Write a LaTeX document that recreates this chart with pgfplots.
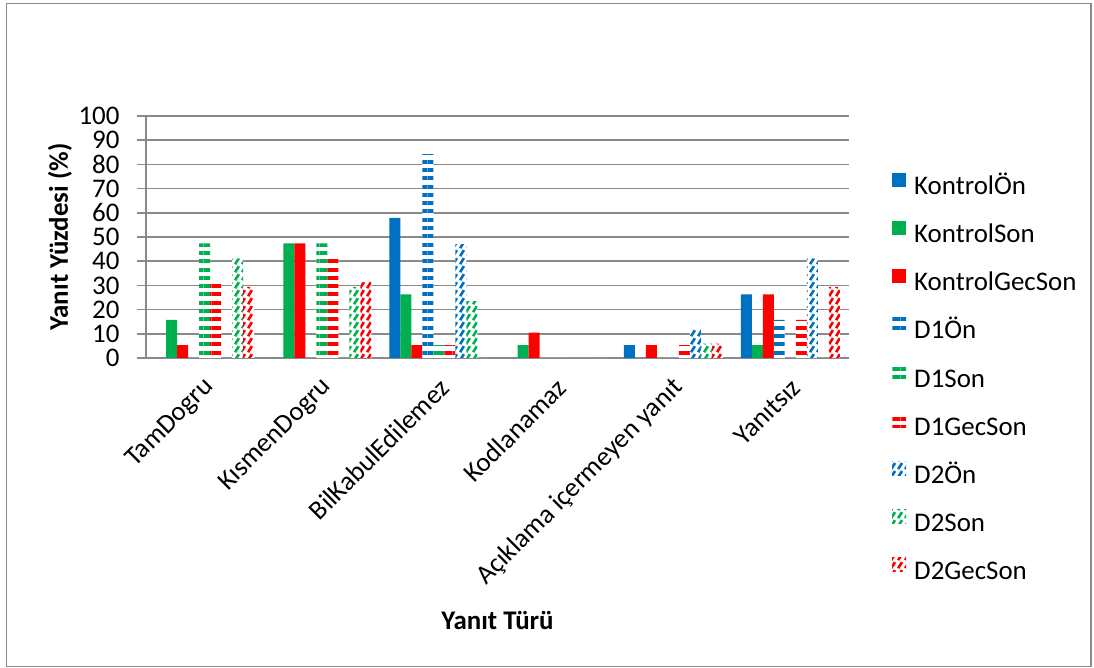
\documentclass[border=0pt]{standalone}
\usepackage{fontspec}
\setmainfont{Carlito}
\usepackage{pgfplots}
\pgfplotsset{compat=1.18}
\usetikzlibrary{patterns.meta}
\definecolor{cb}{HTML}{0070C0}
\definecolor{cg}{HTML}{00B050}
\definecolor{cr}{HTML}{FF0000}
\definecolor{gridc}{HTML}{8A8A8A}
\newcommand\fs{\fontsize{27}{32}\selectfont}
\newcommand\fl{\fontsize{27}{32}\selectfont}
\pgfdeclarepattern{
  name=ddash,
  type=uncolored,
  bottom left={\pgfpoint{0pt}{0pt}},
  top right={\pgfpoint{6.5bp}{8.3bp}},
  tile size={\pgfpoint{6.5bp}{8.3bp}},
  code={
    \pgfsetlinewidth{2.8bp}
    \pgfpathmoveto{\pgfpoint{1.2bp}{0.9bp}}
    \pgfpathlineto{\pgfpoint{5.3bp}{7.4bp}}
    \pgfusepath{stroke}
  }
}
\pgfplotsset{
  limg/.style={legend image code/.code={\path[##1] (0bp,1.5bp) rectangle (14bp,15.5bp);}},
  solidbar/.style={fill=#1, draw=none, limg},
  hbar/.style={fill=white, draw=none, postaction={pattern={Lines[angle=0,distance=8.3bp,line width=4bp]}, pattern color=#1}, limg},
  dbar/.style={fill=white, draw=none, postaction={pattern=ddash, pattern color=#1}, limg},
}
\begin{document}
\begin{tikzpicture}
\useasboundingbox (0,0) rectangle (1094bp,668bp);
\fill[white] (0,0) rectangle (1094bp,668bp);
\draw[gridc, line width=1.5bp] (6.5bp,1.5bp) rectangle (1091bp,664.5bp);
\begin{axis}[
  at={(146bp,310bp)}, anchor=south west,
  scale only axis, width=703bp, height=242bp,
  xmin=-0.5, xmax=5.5, ymin=0, ymax=100,
  ybar=0pt, bar width=11bp,
  axis x line*=bottom, axis y line*=left,
  axis line style={gridc, line width=1.5bp, -},
  ymajorgrids, grid style={gridc, line width=1.5bp},
  ytick={0,10,...,100},
  xtick={0,1,2,3,4,5},
  xticklabels={TamDogru, KısmenDogru, BilKabulEdilemez, Kodlanamaz, Açıklama içermeyen yanıt, Yanıtsız},
  xtick style={draw=none},
  ytick style={gridc, line width=1.5bp},
  tick align=outside, major tick length=9bp,
  /pgf/number format/assume math mode=true,
  yticklabel style={font=\fs, anchor=east, xshift=-14bp},
  xticklabel style={font=\fs, xshift=8bp, yshift=-14bp, rotate=45, anchor=east},
  ylabel={Yanıt Yüzdesi (\%)},
  xlabel={Yanıt Türü},
  ylabel style={font=\bfseries\fl, at={(axis description cs:-0.1223,0.5)}, anchor=center},
  xlabel style={font=\bfseries\fl, at={(axis description cs:0.5,-1.0826)}, anchor=center},
  legend cell align=left,
  legend style={at={(1.0612,0.7645)}, anchor=north west, draw=none, fill=none,
    inner sep=0pt, row sep=18.6bp, column sep=6bp, font=\fl,
    nodes={text height=18bp, text depth=6bp, inner sep=2bp}},
]
\addplot[solidbar=cb] coordinates {(0,0)(1,0)(2,57.9)(3,0)(4,5.3)(5,26.3)};
\addplot[solidbar=cg] coordinates {(0,15.8)(1,47.4)(2,26.3)(3,5.3)(4,0)(5,5.3)};
\addplot[solidbar=cr] coordinates {(0,5.3)(1,47.4)(2,5.3)(3,10.5)(4,5.3)(5,26.3)};
\addplot[hbar=cb] coordinates {(0,0)(1,0)(2,84.2)(3,0)(4,0)(5,15.8)};
\addplot[hbar=cg] coordinates {(0,47.4)(1,47.4)(2,5.3)(3,0)(4,0)(5,0)};
\addplot[hbar=cr] coordinates {(0,31.6)(1,42.1)(2,5.3)(3,0)(4,5.3)(5,15.8)};
\addplot[dbar=cb] coordinates {(0,0)(1,0)(2,47.1)(3,0)(4,11.8)(5,41.2)};
\addplot[dbar=cg] coordinates {(0,41.2)(1,29.4)(2,23.5)(3,0)(4,5.9)(5,0)};
\addplot[dbar=cr] coordinates {(0,29.4)(1,31.5)(2,0)(3,0)(4,5.9)(5,29.4)};
\legend{KontrolÖn, KontrolSon, KontrolGecSon, D1Ön, D1Son, D1GecSon, D2Ön, D2Son, D2GecSon}
\end{axis}
\end{tikzpicture}
\end{document}
